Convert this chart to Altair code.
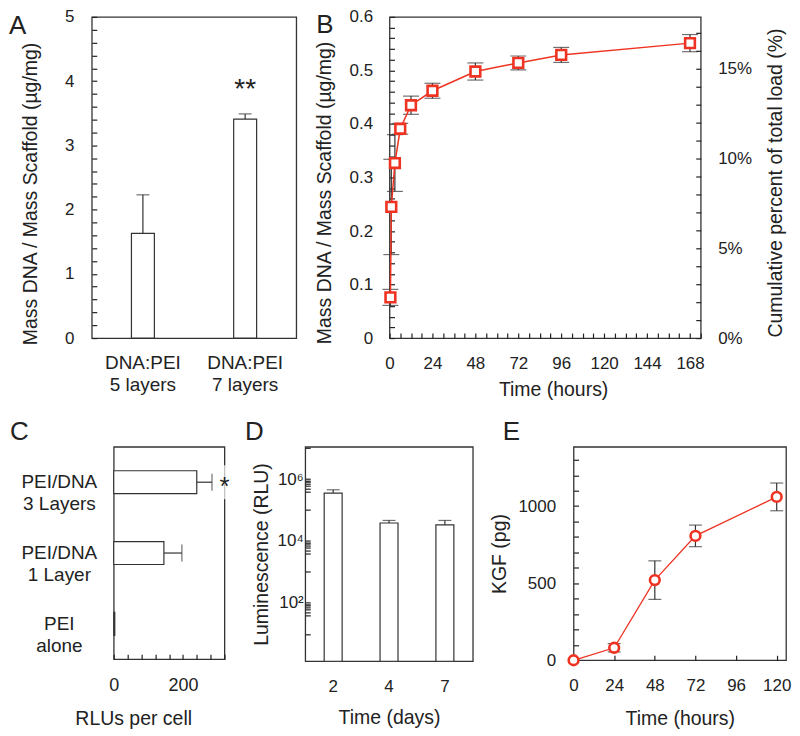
import altair as alt
import pandas as pd

FONT = "Liberation Sans"
RED = "#ee3322"
INK = "#333333"
TXT = "#222222"
LAB = 17
TIT = 19.5
TK = 5  # inward tick length

# ---------------- data ----------------
# Panel A
a_cats = ["DNA:PEI\n5 layers", "DNA:PEI\n7 layers"]
a_vals = [1.63, 3.41]
a_err = [0.60, 0.08]
a_sig = ["", "**"]

# Panel B
b_time = [0.5, 1, 3, 6, 12, 24, 48, 72, 96, 168]
b_mass = [0.076, 0.245, 0.327, 0.391, 0.435, 0.462, 0.498, 0.514, 0.529, 0.551]
b_err = [0.015, 0.089, 0.053, 0.010, 0.017, 0.014, 0.016, 0.013, 0.014, 0.016]
b_total_load = 3.35  # ug/mg, for the right-hand percent axis

# Panel C
c_cats = ["PEI/DNA\n3 Layers", "PEI/DNA\n1 Layer", "PEI\nalone"]
c_vals = [240, 145, 3]
c_err = [44, 52, 0]
c_sig = ["*", "", ""]

# Panel D
d_days = ["2", "4", "7"]
d_vals = [3.5e5, 3.8e4, 3.3e4]
d_err = [1.0e5, 0.8e4, 1.3e4]

# Panel E
e_time = [0, 24, 48, 72, 120]
e_kgf = [0, 81, 520, 807, 1060]
e_err = [0, 27, 125, 70, 90]

# tick lists
a_ticks = [round(i * 0.2, 1) for i in range(26)]
b_yticks = [round(i * 0.02, 2) for i in range(31)]
b_xticks = list(range(0, 175, 6))
b_pticks = list(range(0, 18))
c_xticks = list(range(0, 321, 40))
d_yticks = [10.0 ** k for k in range(1, 8)] + [m * 10.0 ** k for k in (1, 3, 5) for m in (4, 5, 6, 7, 8, 9)]
e_xticks = [0, 24, 48, 72, 96, 120]
e_yticks = list(range(0, 1301, 100))


def letter(t, dx, dy):
    return alt.TitleParams(text=t, orient="none", anchor="start", frame="group", fontSize=26,
                           fontWeight="normal", font=FONT, color=TXT, dx=dx, dy=dy, offset=0,
                           baseline="alphabetic")


# ---------------- Panel A ----------------
WA, HA = 205, 322
dfA = pd.DataFrame({"cat": a_cats, "val": a_vals,
                    "top": [v + e for v, e in zip(a_vals, a_err)], "sig": a_sig})
axA_y = alt.Axis(values=a_ticks, labelExpr="datum.value % 1 == 0 ? format(datum.value, 'd') : ''",
                 offset=-TK, tickSize=TK, labelPadding=18,
                 title="Mass DNA / Mass Scaffold (µg/mg)",
                 titleX=-61 - TK, titleY=177, titleAlign="center", titleBaseline="middle", labelFlush=False)
axA_x = alt.Axis(title=None, labelAngle=0, ticks=False, labelExpr="split(datum.label, '\\n')",
                 labelLineHeight=22.6, labelPadding=15, labelBaseline="top", labelFontSize=19)
scA_y = alt.Scale(domain=[0, 5], nice=False)
scA_x = alt.Scale(paddingInner=0, paddingOuter=0)


def xA():
    return alt.X("cat:N", sort=a_cats, scale=scA_x, axis=axA_x)


def yA(f):
    return alt.Y(f, type="quantitative", scale=scA_y, axis=axA_y, title="Mass DNA / Mass Scaffold (µg/mg)")


errA = alt.Chart(dfA).mark_rule(color=INK, strokeWidth=1.2).encode(x=xA(), y=yA("val"), y2="top:Q")
barsA = alt.Chart(dfA).mark_bar(size=23, fill="white", stroke=INK, strokeWidth=1.2).encode(x=xA(), y=yA("val"))
capA = alt.Chart(dfA).mark_tick(color=INK, size=13, thickness=1.2, orient="horizontal").encode(x=xA(), y=yA("top"))
sigA = alt.Chart(dfA).mark_text(fontSize=28, dy=-24, baseline="middle", font=FONT, color=TXT).encode(
    x=xA(), y=yA("top"), text="sig:N")
panelA = alt.layer(errA, barsA, capA, sigA).properties(width=WA, height=HA, title=letter("A", -83, 17))

# ---------------- Panel B ----------------
WB, HB = 312, 322
dfB = pd.DataFrame({"t": b_time, "m": b_mass,
                    "lo": [m - e for m, e in zip(b_mass, b_err)],
                    "hi": [m + e for m, e in zip(b_mass, b_err)],
                    "pct": [m / b_total_load * 100 for m in b_mass]})
scB_x = alt.Scale(domain=[0, 174], nice=False)
scB_y = alt.Scale(domain=[0, 0.6], nice=False)
scB_p = alt.Scale(domain=[0, 17.9], nice=False)
axB_x = alt.Axis(values=b_xticks, labelExpr="datum.value % 24 == 0 ? datum.label : ''",
                 offset=-TK, tickSize=TK, labelPadding=25, labelBaseline="middle", labelFlush=False,
                 title="Time (hours)", titleY=52 + TK, titleX=164, titleBaseline="middle")
axB_y = alt.Axis(values=b_yticks,
                 labelExpr="datum.value < 0.001 ? '0' : (abs(datum.value * 10 - round(datum.value * 10)) < 0.001 ? format(datum.value, '.1f') : '')",
                 offset=-TK, tickSize=TK, labelPadding=17, title="Mass DNA / Mass Scaffold (µg/mg)",
                 titleX=-65 - TK, titleY=176, titleAlign="center", titleBaseline="middle", labelFlush=False)
axB_p = alt.Axis(orient="right", values=b_pticks, labelExpr="datum.value % 5 == 0 ? datum.value + '%' : ''",
                 offset=-TK, tickSize=TK, labelPadding=17, labelFlush=False,
                 title="Cumulative percent of total load (%)", titleAngle=270,
                 titleX=75 + TK, titleY=166, titleAlign="center", titleBaseline="middle")


def xB(f="t"):
    return alt.X(f, type="quantitative", scale=scB_x, axis=axB_x, title="Time (hours)")


def yB(f):
    return alt.Y(f, type="quantitative", scale=scB_y, axis=axB_y, title="Mass DNA / Mass Scaffold (µg/mg)")


def pB(f):
    return alt.Y(f, type="quantitative", scale=scB_p, axis=axB_p, title="Cumulative percent of total load (%)")


errB = alt.Chart(dfB).mark_rule(color=INK, strokeWidth=1.2).encode(x=xB(), y=yB("lo"), y2="hi:Q")
loB = alt.Chart(dfB).mark_tick(color=INK, size=16, thickness=1.2, orient="horizontal").encode(x=xB(), y=yB("lo"))
hiB = alt.Chart(dfB).mark_tick(color=INK, size=16, thickness=1.2, orient="horizontal").encode(x=xB(), y=yB("hi"))
lineB = alt.Chart(dfB).mark_line(color=RED, strokeWidth=1.5).encode(x=xB(), y=yB("m"))
ptsB = alt.Chart(dfB).mark_point(shape="square", filled=True, fill="white", stroke=RED, strokeWidth=2.6,
                                 size=95, opacity=1).encode(x=xB(), y=yB("m"))
leftB = alt.layer(errB, loB, hiB, lineB, ptsB)
rightB = alt.Chart(dfB).mark_point(opacity=0).encode(x=xB(), y=pB("pct"))
panelB = alt.layer(leftB, rightB).resolve_scale(y="independent").properties(
    width=WB, height=HB, title=letter("B", -73.5, 16))

# ---------------- Panel C ----------------
WC, HC = 111, 213
dfC = pd.DataFrame({"cat": c_cats, "val": c_vals,
                    "hi": [v + e for v, e in zip(c_vals, c_err)], "sig": c_sig,
                    "edge": [320, 320, 320]})
scC_x = alt.Scale(domain=[0, 320], nice=False)
scC_y = alt.Scale(paddingInner=0, paddingOuter=0)
axC_x = alt.Axis(values=c_xticks, labelExpr="datum.value % 200 == 0 ? datum.label : ''",
                 offset=-TK, tickSize=TK, labelPadding=26, labelBaseline="middle", labelFlush=False,
                 labelFontSize=18, title="RLUs per cell", titleX=19.5, titleY=59 + TK, titleBaseline="middle")
axC_y = alt.Axis(title=None, ticks=False, labelExpr="split(datum.label, '\\n')", labelAlign="center",
                 labelPadding=55, labelLineHeight=22, labelFontSize=19, labelBaseline="middle")


def xC(f):
    return alt.X(f, type="quantitative", scale=scC_x, axis=axC_x, title="RLUs per cell")


def yC():
    return alt.Y("cat:N", sort=c_cats, scale=scC_y, axis=axC_y)


errC = alt.Chart(dfC).mark_rule(color=INK, strokeWidth=1.2).encode(x=xC("val"), x2="hi:Q", y=yC())
barsC = alt.Chart(dfC).mark_bar(size=23, fill="white", stroke=INK, strokeWidth=1.2).encode(x=xC("val"), y=yC())
capC = alt.Chart(dfC[dfC["hi"] > dfC["val"]]).mark_tick(color=INK, size=17, thickness=1.2, orient="vertical").encode(
    x=xC("hi"), y=yC())
gapC = alt.Chart(dfC[dfC["sig"] != ""]).mark_tick(color="white", size=34, thickness=5, orient="vertical").encode(
    x=xC("edge"), y=yC())
sigC = alt.Chart(dfC).mark_text(fontSize=26, dy=5, baseline="middle", font=FONT, color=TXT).encode(
    x=xC("edge"), y=yC(), text="sig:N")
panelC = alt.layer(errC, barsC, capC, gapC, sigC).properties(width=WC, height=HC, title=letter("C", -104, -7))

# ---------------- Panel D ----------------
WD, HD = 168, 215
dfD = pd.DataFrame({"day": d_days, "val": d_vals,
                    "hi": [v + e for v, e in zip(d_vals, d_err)]})
scD_y = alt.Scale(type="log", domain=[1.3, 1.1e7], nice=False)
scD_x = alt.Scale(paddingInner=0, paddingOuter=0)
axD_y = alt.Axis(values=d_yticks,
                 labelExpr="datum.value == 100 ? '10²' : datum.value == 10000 ? '10⁴' : datum.value == 1000000 ? '10⁶' : ''",
                 offset=-TK, tickSize=TK, labelPadding=2, title="Luminescence (RLU)", titleX=-44 - TK,
                 titleBaseline="middle", labelFlush=False)
axD_x = alt.Axis(title="Time (days)", labelAngle=0, ticks=False, labelPadding=25, labelBaseline="middle",
                 titleY=56, titleBaseline="middle")


def xD():
    return alt.X("day:N", sort=d_days, scale=scD_x, axis=axD_x, title="Time (days)")


def yD(f):
    return alt.Y(f, type="quantitative", scale=scD_y, axis=axD_y, title="Luminescence (RLU)")


errD = alt.Chart(dfD).mark_rule(color=INK, strokeWidth=1.2).encode(x=xD(), y=yD("val"), y2="hi:Q")
barsD = alt.Chart(dfD).mark_bar(size=18, fill="white", stroke=INK, strokeWidth=1.2).encode(
    x=xD(), y=yD("val"), y2=alt.datum(1.3))
capD = alt.Chart(dfD).mark_tick(color=INK, size=13, thickness=1.2, orient="horizontal").encode(x=xD(), y=yD("hi"))
panelD = alt.layer(errD, barsD, capD).properties(width=WD, height=HD, title=letter("D", -60.3, -7))

# ---------------- Panel E ----------------
WE, HE = 213, 214
dfE = pd.DataFrame({"t": e_time, "k": e_kgf,
                    "lo": [k - e for k, e in zip(e_kgf, e_err)],
                    "hi": [k + e for k, e in zip(e_kgf, e_err)]})
dfEe = dfE[dfE["hi"] > dfE["lo"]]
scE_x = alt.Scale(domain=[0, 125.5], nice=False)
scE_y = alt.Scale(domain=[0, 1385], nice=False)
axE_x = alt.Axis(values=e_xticks, offset=-TK, tickSize=TK, labelPadding=25, labelBaseline="middle",
                 labelFlush=False, title="Time (hours)", titleY=58 + TK, titleBaseline="middle")
axE_y = alt.Axis(values=e_yticks, labelExpr="datum.value % 500 == 0 ? format(datum.value, 'd') : ''",
                 offset=-TK, tickSize=TK, labelPadding=18, title="KGF (pg)", titleX=-74 - TK,
                 titleBaseline="middle", labelFlush=False)


def xE(f="t"):
    return alt.X(f, type="quantitative", scale=scE_x, axis=axE_x, title="Time (hours)")


def yE(f):
    return alt.Y(f, type="quantitative", scale=scE_y, axis=axE_y, title="KGF (pg)")


errE = alt.Chart(dfEe).mark_rule(color=INK, strokeWidth=1.2).encode(x=xE(), y=yE("lo"), y2="hi:Q")
loE = alt.Chart(dfEe).mark_tick(color=INK, size=13, thickness=1.2, orient="horizontal").encode(x=xE(), y=yE("lo"))
hiE = alt.Chart(dfEe).mark_tick(color=INK, size=13, thickness=1.2, orient="horizontal").encode(x=xE(), y=yE("hi"))
lineE = alt.Chart(dfE).mark_line(color=RED, strokeWidth=1.3).encode(x=xE(), y=yE("k"))
ptsE = alt.Chart(dfE).mark_point(shape="circle", filled=True, fill="white", stroke=RED, strokeWidth=2.6,
                                 size=95, opacity=1).encode(x=xE(), y=yE("k"))
panelE = alt.layer(errE, loE, hiE, lineE, ptsE).properties(width=WE, height=HE, title=letter("E", -71, -7))


# ---------------- layout ----------------
def spacer(w):
    return alt.Chart(pd.DataFrame({"s": [0]})).mark_point(opacity=0).encode(
        x=alt.value(0), y=alt.value(0)).properties(width=w, height=1, view=alt.ViewBackground(stroke="transparent"))


row1 = alt.hconcat(panelA, panelB, spacing=93.5, bounds="flush")
row2 = alt.hconcat(spacer(22), panelC, spacer(80.5), panelD, spacer(100.3), panelE, spacing=0, bounds="flush")

chart = alt.vconcat(row1, row2, spacing=431, bounds="flush").configure_view(
    stroke=INK, strokeWidth=1.3
).configure_axis(
    domain=False, grid=False, labelFont=FONT, titleFont=FONT, labelFontSize=LAB, titleFontSize=TIT,
    titleFontWeight="normal", labelColor=TXT, titleColor=TXT, labelOverlap=False,
    tickColor="#222222", tickWidth=1.2, zindex=1
).configure_text(font=FONT).properties(padding={"left": 0, "top": -2, "right": 0, "bottom": 0})

chart.save("out.html", embed_options={"renderer": "svg", "actions": False})
